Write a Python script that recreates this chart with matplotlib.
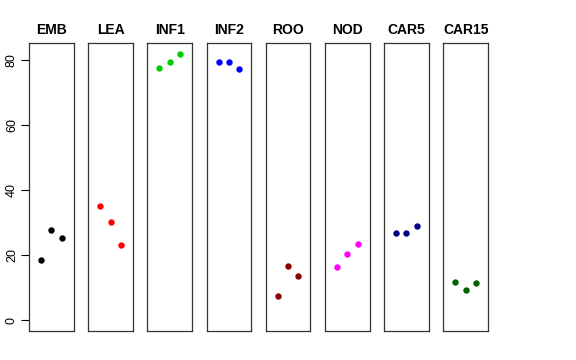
import matplotlib.pyplot as plt
import numpy as np

plt.rcParams['font.family'] = ['Liberation Sans', 'DejaVu Sans']

# panel names and colours
groups = ["EMB", "LEA", "INF1", "INF2", "ROO", "NOD", "CAR5", "CAR15"]
colors = ["#000000", "#FF0000", "#00CD00", "#0000FF", "#8B0000", "#FF00FF", "#000080", "#006400"]

# three values per panel
emb = [18.4, 27.6, 25.4]
lea = [35.1, 30.1, 23.0]
inf1 = [77.4, 79.4, 81.8]
inf2 = [79.4, 79.4, 77.3]
roo = [7.6, 16.6, 13.7]
nod = [16.3, 20.3, 23.4]
car5 = [26.7, 26.7, 29.1]
car15 = [11.8, 9.4, 11.5]
values = [emb, lea, inf1, inf2, roo, nod, car5, car15]
xpos = [1, 2, 3]

fig, axes = plt.subplots(1, 8, sharey=True, figsize=(5.76, 3.6), dpi=100)
fig.subplots_adjust(left=29 / 576, right=488 / 576, top=1 - 43.3 / 360,
                    bottom=1 - 331 / 360, wspace=0.327)

ymax = max(max(v) for v in values)
for i, ax in enumerate(axes):
    ax.plot(xpos, values[i], 'o', color=colors[i], ms=4.6, mec='none')
    ax.set_xlim(-0.16, 4.16)
    ax.set_ylim(-0.04 * ymax, ymax * 1.04)
    ax.set_xticks([])
    ax.set_title(groups[i], fontsize=10, fontweight='bold', pad=7)
    for s in ax.spines.values():
        s.set_color('#333333')
        s.set_linewidth(0.9)
    if i == 0:
        ax.set_yticks(np.arange(0, 81, 20))
        ax.tick_params(axis='y', length=5.5, width=0.8, pad=2.5, labelsize=9)
        for lab in ax.get_yticklabels():
            lab.set_rotation(90)
            lab.set_va('center')
    else:
        ax.tick_params(axis='y', left=False, labelleft=False)

plt.savefig("out.png", dpi=100)
